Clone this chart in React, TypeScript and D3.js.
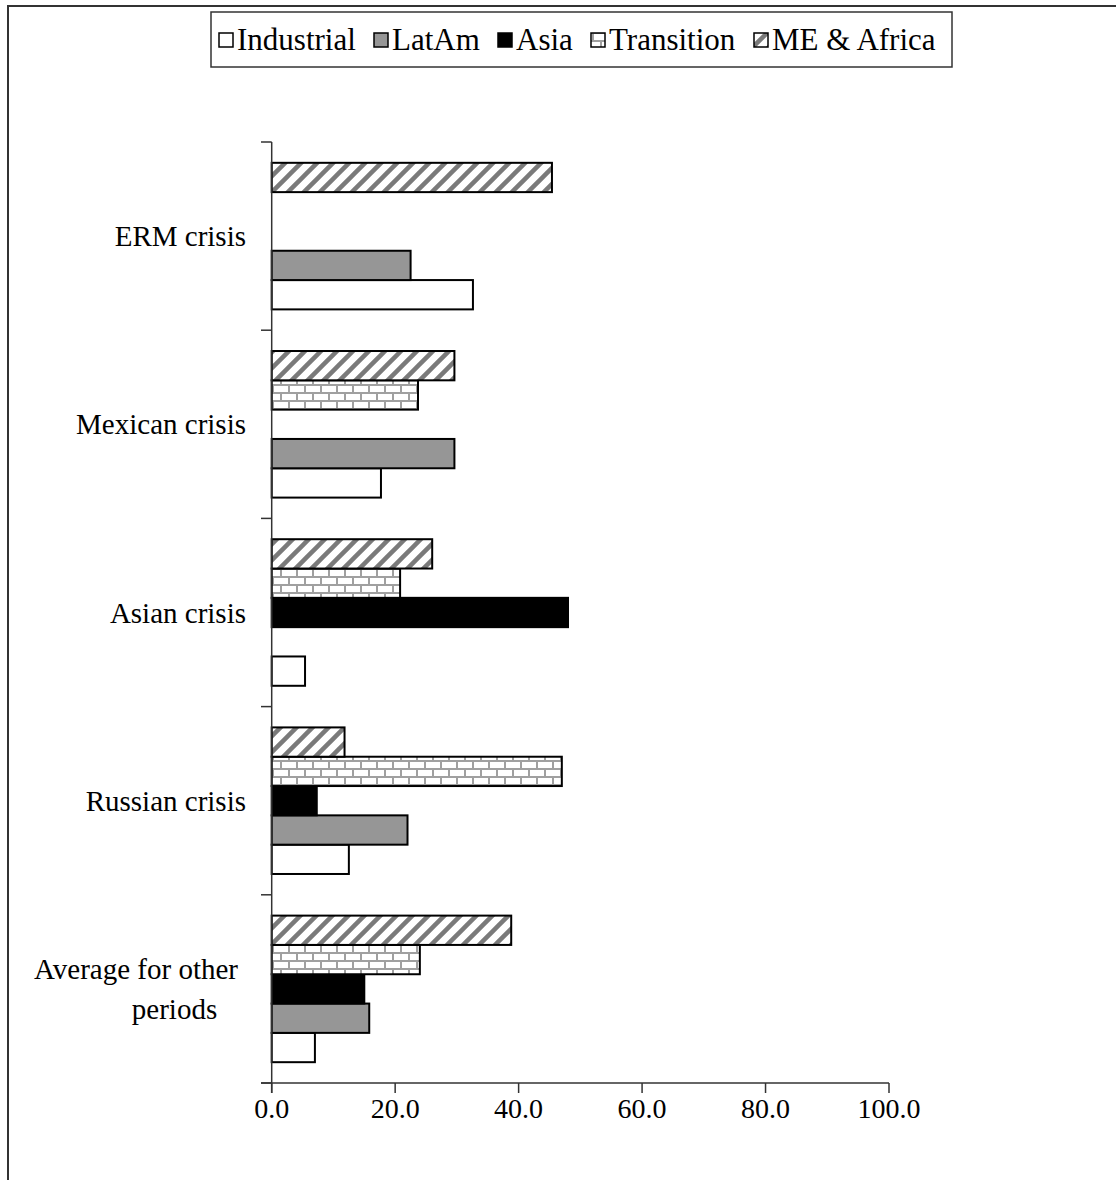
import React from "react";
import * as d3 from "d3";

// Crisis periods, top to bottom
const categories = ["ERM crisis", "Mexican crisis", "Asian crisis", "Russian crisis", "Average for other periods"];
// Regions, in legend order (Industrial is drawn lowest within each group)
const seriesNames = ["Industrial", "LatAm", "Asia", "Transition", "ME & Africa"];

// Values per category, in the same order as `categories` (null = no bar)
const industrial: (number | null)[] = [32.6, 17.7, 5.4, 12.5, 7.0];
const latAm: (number | null)[] = [22.5, 29.6, null, 22.0, 15.8];
const asia: (number | null)[] = [null, null, 48.0, 7.3, 15.0];
const transition: (number | null)[] = [null, 23.7, 20.8, 47.0, 24.0];
const meAfrica: (number | null)[] = [45.4, 29.6, 26.0, 11.8, 38.8];

const xTicks = [0, 20, 40, 60, 80, 100];

const seriesValues = [industrial, latAm, asia, transition, meAfrica];
const fills = ["#ffffff", "#969696", "#000000", "url(#brick)", "url(#hatch)"];

const FONT = "'Liberation Serif', 'Times New Roman', serif";

export default function App() {
  const x = d3.scaleLinear().domain([0, 100]).range([271.7, 889]);
  const y = d3.scaleBand<string>().domain(categories).range([142, 1083]).paddingInner(0).paddingOuter(0);
  const inner = d3
    .scaleBand<string>()
    .domain([...seriesNames].reverse())
    .range([0, y.bandwidth()])
    .paddingInner(0)
    .paddingOuter(0.71);

  const boundaries = categories.map((c) => y(c)!).concat([y.range()[1]]);

  // legend layout: square x, text x
  const legendItems = [
    { sq: 219, tx: 237 },
    { sq: 374, tx: 392 },
    { sq: 498, tx: 516 },
    { sq: 591, tx: 609 },
    { sq: 754, tx: 772 },
  ];

  return (
    <svg
      width={1116}
      height={1180}
      style={{ position: "absolute", left: 0, top: 0, background: "#fff" }}
      fontFamily={FONT}
    >
      <defs>
        <pattern id="hatch" patternUnits="userSpaceOnUse" width={16} height={16}>
          <rect width={16} height={16} fill="#fff" />
          <path d="M-4,4 L4,-4 M0,16 L16,0 M12,20 L20,12" stroke="#7a7a7a" strokeWidth={4.5} />
        </pattern>
        <pattern id="brick" patternUnits="userSpaceOnUse" width={16} height={16}>
          <rect width={16} height={16} fill="#fff" />
          <path d="M0,1 H16 M0,9 H16 M1,0 V8 M9,8 V16" stroke="#a0a0a0" strokeWidth={2} fill="none" />
        </pattern>
      </defs>

      {/* outer chart frame */}
      <rect x={8} y={6} width={1200} height={1300} fill="none" stroke="#333" strokeWidth={2} />

      {/* legend */}
      <rect x={211} y={12} width={741} height={55} fill="#fff" stroke="#333" strokeWidth={1.5} />
      {seriesNames.map((name, i) => (
        <g key={name}>
          <rect
            x={legendItems[i].sq}
            y={33}
            width={14}
            height={14}
            fill={fills[i]}
            stroke="#000"
            strokeWidth={1.5}
          />
          <text x={legendItems[i].tx} y={50} fontSize={31} fill="#000">
            {name}
          </text>
        </g>
      ))}

      {/* bars */}
      {categories.map((cat, ci) => (
        <g key={cat}>
          {seriesNames.map((s, si) => {
            const v = seriesValues[si][ci];
            if (v === null) return null;
            return (
              <rect
                key={s}
                x={x(0)}
                y={y(cat)! + inner(s)!}
                width={x(v) - x(0)}
                height={inner.bandwidth()}
                fill={fills[si]}
                stroke="#000"
                strokeWidth={2}
              />
            );
          })}
        </g>
      ))}

      {/* value axis */}
      <line x1={261} x2={x(100)} y1={1083} y2={1083} stroke="#333" strokeWidth={1.5} />
      {xTicks.map((t) => (
        <g key={t}>
          <line x1={x(t)} x2={x(t)} y1={1083} y2={1093} stroke="#333" strokeWidth={1.5} />
          <text x={x(t)} y={1118} fontSize={28} textAnchor="middle" fill="#000">
            {d3.format(".1f")(t)}
          </text>
        </g>
      ))}

      {/* category axis */}
      <line x1={x(0)} x2={x(0)} y1={142} y2={1093} stroke="#333" strokeWidth={1.5} />
      {boundaries.map((b, i) => (
        <line key={i} x1={261} x2={x(0)} y1={b} y2={b} stroke="#333" strokeWidth={1.5} />
      ))}
      {categories.map((cat) => {
        const cy = y(cat)! + y.bandwidth() / 2;
        if (cat === "Average for other periods") {
          return (
            <g key={cat}>
              <text x={238} y={cy - 10} fontSize={29} textAnchor="end" fill="#000">
                Average for other
              </text>
              <text x={174.5} y={cy + 30} fontSize={29} textAnchor="middle" fill="#000">
                periods
              </text>
            </g>
          );
        }
        return (
          <text key={cat} x={246} y={cy + 10} fontSize={29} textAnchor="end" fill="#000">
            {cat}
          </text>
        );
      })}
    </svg>
  );
}
